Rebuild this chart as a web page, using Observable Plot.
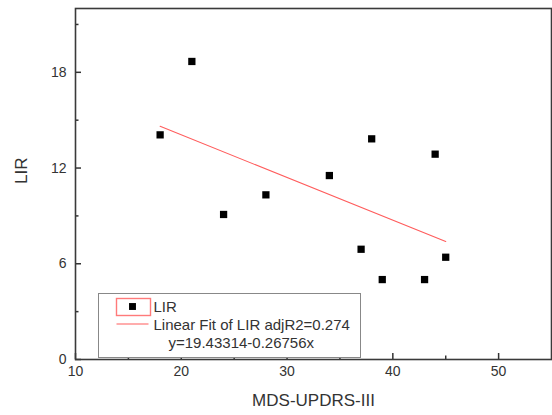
<!DOCTYPE html>
<html>
<head>
<meta charset="utf-8">
<script src="https://cdn.jsdelivr.net/npm/d3@7"></script>
<script src="https://cdn.jsdelivr.net/npm/@observablehq/plot@0.6"></script>
<style>
  html, body { margin: 0; padding: 0; background: #fff; }
  #chart { width: 552px; height: 415px; }
</style>
</head>
<body>
<div id="chart"></div>
<script>
// ---- data ----
const mdsUpdrs = [18, 21, 24, 28, 34, 38, 44, 37, 45, 39, 43];
const lirValues = [14.08, 18.68, 9.09, 10.32, 11.53, 13.83, 12.87, 6.91, 6.41, 5.01, 5.01];
const fitIntercept = 19.43314;
const fitSlope = -0.26756;
const xMajorTicks = [10, 20, 30, 40, 50];
const xMinorTicks = [15, 25, 35, 45];
const yMajorTicks = [0, 6, 12, 18];
const yMinorTicks = [3, 9, 15, 21];
const xTitle = "MDS-UPDRS-III";
const yTitle = "LIR";
const legendSeries = "LIR";
const legendFit = "Linear Fit of LIR adjR2=0.274";
const legendEquation = "y=19.43314-0.26756x";

const points = mdsUpdrs.map((x, i) => ({x, y: lirValues[i]}));
const xMin = d3.min(mdsUpdrs), xMax = d3.max(mdsUpdrs);
const fitLine = [xMin, xMax].map(x => ({x, y: fitIntercept + fitSlope * x}));

const W = 552, H = 415;
const mL = 75, mR = 1, mT = 8, mB = 56;
const pw = W - mL - mR, ph = H - mT - mB;
const font = "'Liberation Sans', Arial, sans-serif";
const red = "#ff5c5c";
const ink = "#333";

const chart = Plot.plot({
  width: W,
  height: H,
  marginLeft: mL,
  marginRight: mR,
  marginTop: mT,
  marginBottom: mB,
  style: {fontFamily: font, background: "#fff", color: ink},
  x: {domain: [10, 55]},
  y: {domain: [0, 22]},
  marks: [
    // tick labels
    Plot.axisX({ticks: xMajorTicks, tickSize: 0, tickPadding: 7, fontSize: 14, label: null, fill: ink}),
    Plot.axisY({ticks: yMajorTicks, tickSize: 0, tickPadding: 9, fontSize: 14, label: null, fill: ink}),
    // inward tick marks
    Plot.tickX(xMajorTicks, {x: d => d, insetTop: ph - 6, stroke: ink, strokeWidth: 1.5}),
    Plot.tickX(xMinorTicks, {x: d => d, insetTop: ph - 3.5, stroke: ink, strokeWidth: 1.5}),
    Plot.tickY(yMajorTicks, {y: d => d, insetRight: pw - 6, stroke: ink, strokeWidth: 1.5}),
    Plot.tickY(yMinorTicks, {y: d => d, insetRight: pw - 3.5, stroke: ink, strokeWidth: 1.5}),
    // fit line
    Plot.line(fitLine, {x: "x", y: "y", stroke: red, strokeWidth: 1.1}),
    // data points
    Plot.dot(points, {x: "x", y: "y", symbol: "square", r: 4.1, fill: "#000", stroke: "none"}),
    // legend box
    Plot.frame({insetLeft: 23, insetRight: pw - (360 - mL), insetTop: 293 - mT, insetBottom: 2, stroke: "#888", strokeWidth: 1, fill: "#fff"}),
    Plot.frame({insetLeft: 41, insetRight: pw - (150 - mL), insetTop: 298 - mT, insetBottom: (mT + ph) - 315, stroke: "#ff7a7a", strokeWidth: 1.4, fill: "none"}),
    Plot.dot([legendSeries], {frameAnchor: "top-left", dx: 132 - mL, dy: 306 - mT, symbol: "square", r: 3.9, fill: "#000", stroke: "none"}),
    Plot.text([legendSeries], {text: d => d, frameAnchor: "top-left", dx: 153 - mL, dy: 307 - mT, textAnchor: "start", lineAnchor: "middle", fontSize: 15, fill: ink}),
    Plot.frame({insetLeft: 41, insetRight: pw - (148 - mL), insetTop: 323 - mT, insetBottom: (mT + ph) - 324, fill: red, stroke: "none"}),
    Plot.text([legendFit], {text: d => d, frameAnchor: "top-left", dx: 153 - mL, dy: 325 - mT, textAnchor: "start", lineAnchor: "middle", fontSize: 15, fill: ink}),
    Plot.text([legendEquation], {text: d => d, frameAnchor: "top-left", dx: 168 - mL, dy: 343 - mT, textAnchor: "start", lineAnchor: "middle", fontSize: 15, fill: ink}),
    // axis titles
    Plot.text([xTitle], {text: d => d, frameAnchor: "bottom", dy: 41, lineAnchor: "middle", fontSize: 17, fill: ink}),
    Plot.text([yTitle], {text: d => d, frameAnchor: "left", dx: -54, rotate: -90, lineAnchor: "middle", fontSize: 17, fill: ink}),
    // plot frame
    Plot.frame({stroke: "#3a3a3a", strokeWidth: 1.6})
  ]
});
document.getElementById("chart").appendChild(chart);
</script>
</body>
</html>
